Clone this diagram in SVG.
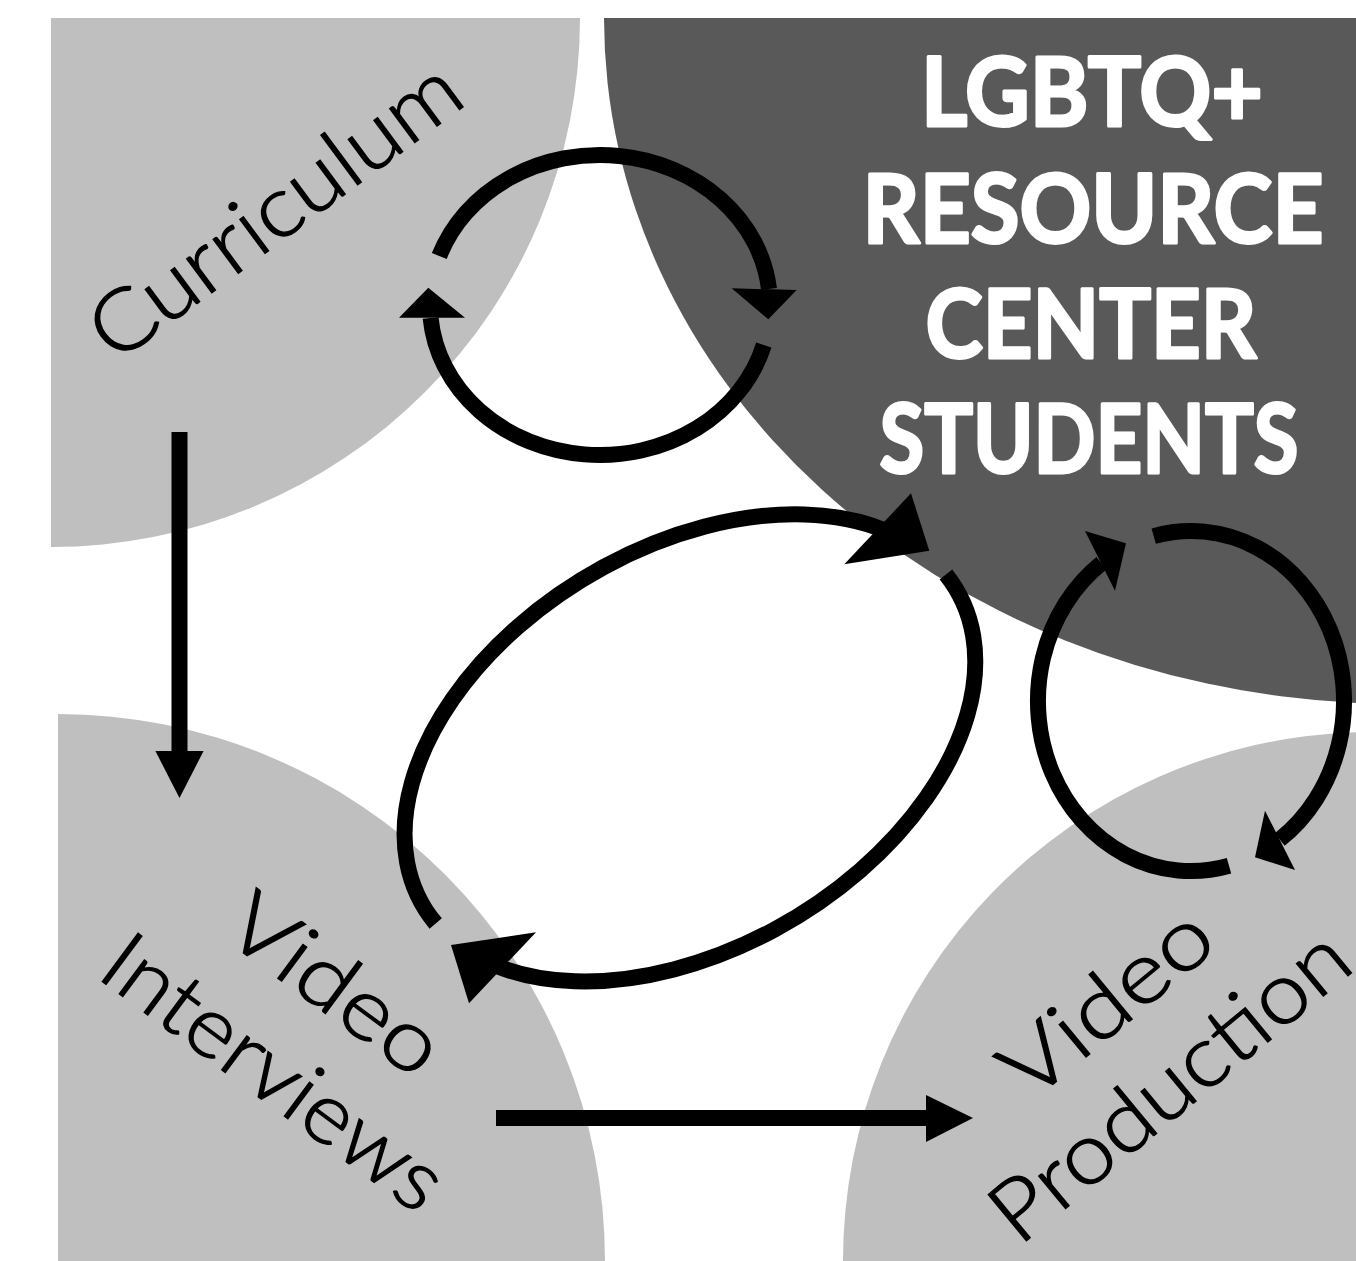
<svg xmlns="http://www.w3.org/2000/svg" width="1356" height="1261" viewBox="0 0 1356 1261">
<style>
.light{fill:#bfbfbf}
.dark{fill:#595959}
.lbl{font-family:Lato,"Liberation Sans",sans-serif;font-weight:300;font-size:85px;fill:#000;stroke:#000;stroke-width:1.3px;text-anchor:middle}
.bold{font-family:Lato,"Liberation Sans",sans-serif;font-weight:700;font-size:95px;fill:#fff;stroke:#fff;stroke-width:3px;stroke-linejoin:round;text-anchor:middle}
.arc{fill:none;stroke:#000;stroke-width:16;stroke-linecap:butt}
.head{fill:#000}
</style>
<rect width="1356" height="1261" fill="#fff"/>
<g id="node-curriculum">
<path class="light" d="M51 18 H580 A529 529 0 0 1 51 547 Z"/>
<text class="lbl" transform="translate(292,233.5) rotate(-36.5)" textLength="440" lengthAdjust="spacingAndGlyphs">Curriculum</text>
</g>
<g id="node-lgbtq">
<path class="dark" d="M604 18 A796 686 0 0 0 1356 703 V18 Z"/>
<text class="bold" x="1092" y="126" textLength="342" lengthAdjust="spacingAndGlyphs">LGBTQ+</text>
<text class="bold" x="1093" y="242.5" textLength="461" lengthAdjust="spacingAndGlyphs">RESOURCE</text>
<text class="bold" x="1091" y="358" textLength="331" lengthAdjust="spacingAndGlyphs">CENTER</text>
<text class="bold" x="1089" y="473" textLength="419" lengthAdjust="spacingAndGlyphs">STUDENTS</text>
</g>
<g id="node-interviews">
<path class="light" d="M58 714 A547 547 0 0 1 605 1261 H58 Z"/>
<g transform="translate(318,1008) rotate(36.5)">
<text class="lbl" x="0" y="0" textLength="245" lengthAdjust="spacingAndGlyphs">Video</text>
<text class="lbl" x="3" y="107" textLength="403" lengthAdjust="spacingAndGlyphs">Interviews</text>
</g>
</g>
<g id="node-production">
<path class="light" d="M843 1261 A529 529 0 0 1 1356 732.2 V1261 Z"/>
<g transform="translate(1125,1025) rotate(-39.5)">
<text class="lbl" x="0" y="0" textLength="247" lengthAdjust="spacingAndGlyphs">Video</text>
<text class="lbl" x="-4" y="104" textLength="438" lengthAdjust="spacingAndGlyphs">Production</text>
</g>
</g>
<g id="connectors">
<line class="arc" x1="179.5" y1="432" x2="179.5" y2="752"/>
<polygon class="head" points="155.4,751 203.6,751 179.5,798"/>
<line class="arc" x1="496" y1="1118" x2="927" y2="1118"/>
<polygon class="head" points="926,1095 926,1142 973,1118"/>
<path class="arc" d="M439.3 256 A170 150 0 0 1 769 289"/>
<polygon class="head" points="731.7,288.3 796.7,290 768.3,319.3"/>
<path class="arc" d="M763.8 345 A170 150 0 0 1 430.6 318"/>
<polygon class="head" points="399,317.7 465,317.7 428.3,287.7"/>
<path class="arc" d="M435.7 923.5 A310 200 -30.7 0 1 884.7 530.3"/>
<polygon class="head" points="911,493.3 929.3,550.7 844.3,564.3"/>
<path class="arc" d="M945.9 574.4 A310 200 -30.7 0 1 495 965.4"/>
<polygon class="head" points="451,945 536,932.3 469,1003.3"/>
<path class="arc" d="M1229 865.7 A153 170 0 0 1 1101.4 563.2"/>
<polygon class="head" points="1085,531 1126,543.3 1115,590.7"/>
<path class="arc" d="M1153.7 536.1 A153 170 0 0 1 1279.7 839.5"/>
<polygon class="head" points="1265,810.7 1255,857.3 1295,870"/>
</g>
</svg>
